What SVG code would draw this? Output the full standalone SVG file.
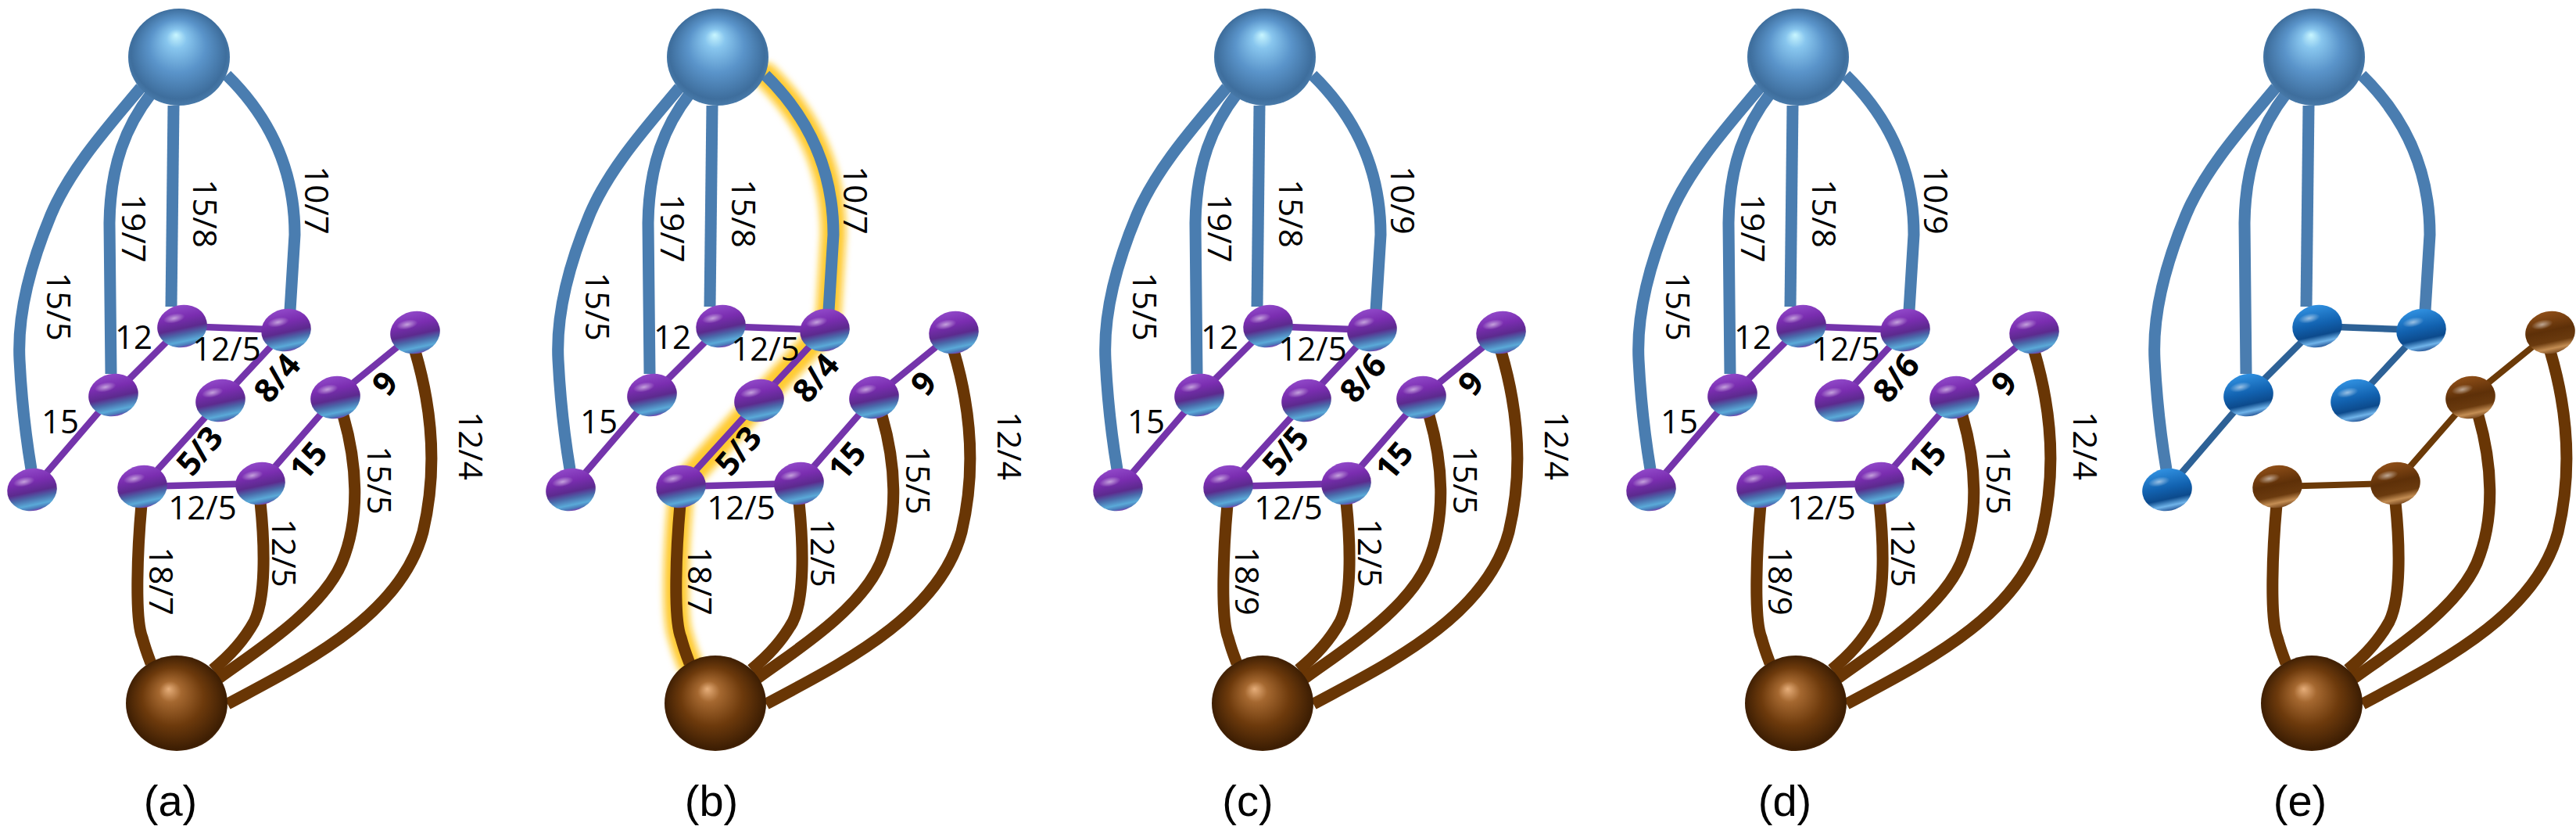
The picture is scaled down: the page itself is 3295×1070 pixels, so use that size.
<svg xmlns="http://www.w3.org/2000/svg" xmlns:xlink="http://www.w3.org/1999/xlink" width="3295" height="1070" viewBox="0 0 3295 1070">
<style>
.eb{fill:none;stroke:#4a7db0;stroke-width:15;stroke-linecap:butt}
.ep{fill:none;stroke:#7434ab;stroke-width:8.5}
.er{fill:none;stroke:#693605;stroke-width:15;stroke-linecap:butt}
.et{fill:none;stroke:#2d6196;stroke-width:8.5}
.etr{fill:none;stroke:#6b3a08;stroke-width:8}
.gl{fill:none;stroke:#ffc20e;stroke-width:32;stroke-linecap:round;stroke-linejoin:round;opacity:0.85}
.l{font-family:"Open Sans","DejaVu Sans",sans-serif;font-size:42px;fill:#000;text-anchor:middle}
.v{dominant-baseline:central}
.b{font-weight:700}
.cap{font-family:"Liberation Sans",Arial,sans-serif;font-size:56px;fill:#000;text-anchor:middle}
</style>
<defs>
<radialGradient id="gSrc" cx="0.5" cy="0.5" r="0.55" fx="0.47" fy="0.27">
<stop offset="0" stop-color="#c8f6ff"/><stop offset="0.18" stop-color="#88c6ee"/><stop offset="0.5" stop-color="#5a94ca"/><stop offset="0.85" stop-color="#3e6e9d"/><stop offset="1" stop-color="#4f82b2"/>
</radialGradient>
<radialGradient id="gSink" cx="0.5" cy="0.5" r="0.55" fx="0.42" fy="0.35">
<stop offset="0" stop-color="#e6ae7a"/><stop offset="0.2" stop-color="#a56830"/><stop offset="0.55" stop-color="#6d3a0c"/><stop offset="0.9" stop-color="#3d1e03"/><stop offset="1" stop-color="#5a3310"/>
</radialGradient>
<linearGradient id="gP" x1="0" y1="0" x2="0" y2="1">
<stop offset="0" stop-color="#9048c8"/><stop offset="0.3" stop-color="#7a2db0"/><stop offset="0.55" stop-color="#5c2a8e"/><stop offset="0.7" stop-color="#4a6aaa"/><stop offset="0.86" stop-color="#5aaad8"/><stop offset="0.95" stop-color="#4a78b8"/><stop offset="1" stop-color="#7a40b0"/>
</linearGradient>
<linearGradient id="gB" x1="0" y1="0" x2="0" y2="1">
<stop offset="0" stop-color="#3090e0"/><stop offset="0.45" stop-color="#1262b0"/><stop offset="0.72" stop-color="#0c4a8c"/><stop offset="0.88" stop-color="#70b4ea"/><stop offset="1" stop-color="#2a5a9a"/>
</linearGradient>
<linearGradient id="gR" x1="0" y1="0" x2="0" y2="1">
<stop offset="0" stop-color="#8e4e18"/><stop offset="0.45" stop-color="#5e3008"/><stop offset="0.72" stop-color="#6a3a0e"/><stop offset="0.88" stop-color="#c48e54"/><stop offset="1" stop-color="#7a4a20"/>
</linearGradient>
<radialGradient id="gHi" cx="0.5" cy="0.5" r="0.5">
<stop offset="0" stop-color="#fff" stop-opacity="0.55"/><stop offset="1" stop-color="#fff" stop-opacity="0"/>
</radialGradient>
<filter id="blur" x="-20%" y="-20%" width="140%" height="140%"><feGaussianBlur stdDeviation="4"/></filter>
<g id="np" transform="rotate(-12)"><ellipse rx="32" ry="27" fill="url(#gP)"/><ellipse cx="-8" cy="-12" rx="14" ry="6" fill="url(#gHi)"/></g>
<g id="nb" transform="rotate(-12)"><ellipse rx="32" ry="27" fill="url(#gB)"/><ellipse cx="-8" cy="-12" rx="14" ry="6" fill="url(#gHi)"/></g>
<g id="nr" transform="rotate(-12)"><ellipse rx="32" ry="27" fill="url(#gR)"/><ellipse cx="-8" cy="-12" rx="14" ry="6" fill="url(#gHi)"/></g>
<ellipse id="src" rx="65" ry="62" fill="url(#gSrc)"/>
<ellipse id="sink" rx="65" ry="61" fill="url(#gSink)"/>
</defs>
<rect width="3295" height="1070" fill="#fff"/>

<!-- Panel a -->
<g id="panel-a">
<g id="a-connectors">
<path class="eb" d="M180,112 C140,160 90,215 65,275 C40,335 22,400 25,460 C28,520 35,570 40,600"/>
<path class="eb" d="M193,120 C162,160 141,210 140,285 L142,478"/>
<path class="eb" d="M222,135 L219,392"/>
<path class="eb" d="M290,96 C335,140 377,205 377,300 L371,397"/>
<path class="ep" d="M41,626 L145,505 L233,417 L366,422 L282,512 L182,622 L333,618 L429,508 L531,425"/>
<path class="er" d="M181,645 C176,700 172,790 182,815 C186,830 190,840 193,848"/>
<path class="er" d="M333,642 C339,700 340,765 325,795 C310,822 292,840 272,856"/>
<path class="er" d="M439,531 C456,590 462,660 437,720 C410,782 322,836 280,867"/>
<path class="er" d="M531,449 C552,520 560,600 541,680 C512,790 380,852 291,900"/>
</g>
<g id="a-nodes">
<g id="a-source" transform="translate(229,73)"><use href="#src"/></g>
<g id="a-sink" transform="translate(226,899)"><use href="#sink"/></g>
<g id="a-n1" transform="translate(233,417)"><use href="#np"/></g>
<g id="a-n2" transform="translate(366,422)"><use href="#np"/></g>
<g id="a-n3" transform="translate(145,505)"><use href="#np"/></g>
<g id="a-n4" transform="translate(41,626)"><use href="#np"/></g>
<g id="a-n5" transform="translate(282,512)"><use href="#np"/></g>
<g id="a-n6" transform="translate(429,508)"><use href="#np"/></g>
<g id="a-n7" transform="translate(531,425)"><use href="#np"/></g>
<g id="a-n8" transform="translate(182,622)"><use href="#np"/></g>
<g id="a-n9" transform="translate(333,618)"><use href="#np"/></g>
</g>
<g id="a-labels">
<text class="l v" transform="translate(76,392) rotate(90)">15/5</text>
<text class="l v" transform="translate(172,292) rotate(90)">19/7</text>
<text class="l v" transform="translate(263,273) rotate(90)">15/8</text>
<text class="l v" transform="translate(406,256) rotate(90)">10/7</text>
<text class="l v" transform="translate(603,570) rotate(90)">12/4</text>
<text class="l v" transform="translate(486,614) rotate(90)">15/5</text>
<text class="l v" transform="translate(364,707) rotate(90)">12/5</text>
<text class="l v" transform="translate(207,743) rotate(90)">18/7</text>
<text class="l" x="171" y="446">12</text>
<text class="l" x="77" y="554">15</text>
<text class="l" x="290" y="461">12/5</text>
<text class="l" x="259" y="664">12/5</text>
<text class="l v b" transform="translate(353,482) rotate(-50)">8/4</text>
<text class="l v b" transform="translate(491,489) rotate(-50)">9</text>
<text class="l v b" transform="translate(254,575) rotate(-50)">5/3</text>
<text class="l v b" transform="translate(393,588) rotate(-50)">15</text>
</g>
</g>

<!-- Panel b -->
<g id="panel-b" transform="translate(689,0)">
<g id="b-highlight" filter="url(#blur)">
<path class="gl" d="M290,96 C335,140 377,205 377,300 L371,397 L366,422 L282,512 L182,622 L181,645 C176,700 172,790 182,815 C186,830 190,840 193,848"/>
</g>
<g id="b-connectors">
<path class="eb" d="M180,112 C140,160 90,215 65,275 C40,335 22,400 25,460 C28,520 35,570 40,600"/>
<path class="eb" d="M193,120 C162,160 141,210 140,285 L142,478"/>
<path class="eb" d="M222,135 L219,392"/>
<path class="eb" d="M290,96 C335,140 377,205 377,300 L371,397"/>
<path class="ep" d="M41,626 L145,505 L233,417 L366,422 L282,512 L182,622 L333,618 L429,508 L531,425"/>
<path class="er" d="M181,645 C176,700 172,790 182,815 C186,830 190,840 193,848"/>
<path class="er" d="M333,642 C339,700 340,765 325,795 C310,822 292,840 272,856"/>
<path class="er" d="M439,531 C456,590 462,660 437,720 C410,782 322,836 280,867"/>
<path class="er" d="M531,449 C552,520 560,600 541,680 C512,790 380,852 291,900"/>
</g>
<g id="b-nodes">
<g id="b-source" transform="translate(229,73)"><use href="#src"/></g>
<g id="b-sink" transform="translate(226,899)"><use href="#sink"/></g>
<g id="b-n1" transform="translate(233,417)"><use href="#np"/></g>
<g id="b-n2" transform="translate(366,422)"><use href="#np"/></g>
<g id="b-n3" transform="translate(145,505)"><use href="#np"/></g>
<g id="b-n4" transform="translate(41,626)"><use href="#np"/></g>
<g id="b-n5" transform="translate(282,512)"><use href="#np"/></g>
<g id="b-n6" transform="translate(429,508)"><use href="#np"/></g>
<g id="b-n7" transform="translate(531,425)"><use href="#np"/></g>
<g id="b-n8" transform="translate(182,622)"><use href="#np"/></g>
<g id="b-n9" transform="translate(333,618)"><use href="#np"/></g>
</g>
<g id="b-labels">
<text class="l v" transform="translate(76,392) rotate(90)">15/5</text>
<text class="l v" transform="translate(172,292) rotate(90)">19/7</text>
<text class="l v" transform="translate(263,273) rotate(90)">15/8</text>
<text class="l v" transform="translate(406,256) rotate(90)">10/7</text>
<text class="l v" transform="translate(603,570) rotate(90)">12/4</text>
<text class="l v" transform="translate(486,614) rotate(90)">15/5</text>
<text class="l v" transform="translate(364,707) rotate(90)">12/5</text>
<text class="l v" transform="translate(207,743) rotate(90)">18/7</text>
<text class="l" x="171" y="446">12</text>
<text class="l" x="77" y="554">15</text>
<text class="l" x="290" y="461">12/5</text>
<text class="l" x="259" y="664">12/5</text>
<text class="l v b" transform="translate(353,482) rotate(-50)">8/4</text>
<text class="l v b" transform="translate(491,489) rotate(-50)">9</text>
<text class="l v b" transform="translate(254,575) rotate(-50)">5/3</text>
<text class="l v b" transform="translate(393,588) rotate(-50)">15</text>
</g>
</g>

<!-- Panel c -->
<g id="panel-c" transform="translate(1389,0)">
<g id="c-connectors">
<path class="eb" d="M180,112 C140,160 90,215 65,275 C40,335 22,400 25,460 C28,520 35,570 40,600"/>
<path class="eb" d="M193,120 C162,160 141,210 140,285 L142,478"/>
<path class="eb" d="M222,135 L219,392"/>
<path class="eb" d="M290,96 C335,140 377,205 377,300 L371,397"/>
<path class="ep" d="M41,626 L145,505 L233,417 L366,422 L282,512 L182,622 L333,618 L429,508 L531,425"/>
<path class="er" d="M181,645 C176,700 172,790 182,815 C186,830 190,840 193,848"/>
<path class="er" d="M333,642 C339,700 340,765 325,795 C310,822 292,840 272,856"/>
<path class="er" d="M439,531 C456,590 462,660 437,720 C410,782 322,836 280,867"/>
<path class="er" d="M531,449 C552,520 560,600 541,680 C512,790 380,852 291,900"/>
</g>
<g id="c-nodes">
<g id="c-source" transform="translate(229,73)"><use href="#src"/></g>
<g id="c-sink" transform="translate(226,899)"><use href="#sink"/></g>
<g id="c-n1" transform="translate(233,417)"><use href="#np"/></g>
<g id="c-n2" transform="translate(366,422)"><use href="#np"/></g>
<g id="c-n3" transform="translate(145,505)"><use href="#np"/></g>
<g id="c-n4" transform="translate(41,626)"><use href="#np"/></g>
<g id="c-n5" transform="translate(282,512)"><use href="#np"/></g>
<g id="c-n6" transform="translate(429,508)"><use href="#np"/></g>
<g id="c-n7" transform="translate(531,425)"><use href="#np"/></g>
<g id="c-n8" transform="translate(182,622)"><use href="#np"/></g>
<g id="c-n9" transform="translate(333,618)"><use href="#np"/></g>
</g>
<g id="c-labels">
<text class="l v" transform="translate(76,392) rotate(90)">15/5</text>
<text class="l v" transform="translate(172,292) rotate(90)">19/7</text>
<text class="l v" transform="translate(263,273) rotate(90)">15/8</text>
<text class="l v" transform="translate(406,256) rotate(90)">10/9</text>
<text class="l v" transform="translate(603,570) rotate(90)">12/4</text>
<text class="l v" transform="translate(486,614) rotate(90)">15/5</text>
<text class="l v" transform="translate(364,707) rotate(90)">12/5</text>
<text class="l v" transform="translate(207,743) rotate(90)">18/9</text>
<text class="l" x="171" y="446">12</text>
<text class="l" x="77" y="554">15</text>
<text class="l" x="290" y="461">12/5</text>
<text class="l" x="259" y="664">12/5</text>
<text class="l v b" transform="translate(353,482) rotate(-50)">8/6</text>
<text class="l v b" transform="translate(491,489) rotate(-50)">9</text>
<text class="l v b" transform="translate(254,575) rotate(-50)">5/5</text>
<text class="l v b" transform="translate(393,588) rotate(-50)">15</text>
</g>
</g>

<!-- Panel d -->
<g id="panel-d" transform="translate(2071,0)">
<g id="d-connectors">
<path class="eb" d="M180,112 C140,160 90,215 65,275 C40,335 22,400 25,460 C28,520 35,570 40,600"/>
<path class="eb" d="M193,120 C162,160 141,210 140,285 L142,478"/>
<path class="eb" d="M222,135 L219,392"/>
<path class="eb" d="M290,96 C335,140 377,205 377,300 L371,397"/>
<path class="ep" d="M41,626 L145,505 L233,417 L366,422 L282,512"/>
<path class="ep" d="M182,622 L333,618 L429,508 L531,425"/>
<path class="er" d="M181,645 C176,700 172,790 182,815 C186,830 190,840 193,848"/>
<path class="er" d="M333,642 C339,700 340,765 325,795 C310,822 292,840 272,856"/>
<path class="er" d="M439,531 C456,590 462,660 437,720 C410,782 322,836 280,867"/>
<path class="er" d="M531,449 C552,520 560,600 541,680 C512,790 380,852 291,900"/>
</g>
<g id="d-nodes">
<g id="d-source" transform="translate(229,73)"><use href="#src"/></g>
<g id="d-sink" transform="translate(226,899)"><use href="#sink"/></g>
<g id="d-n1" transform="translate(233,417)"><use href="#np"/></g>
<g id="d-n2" transform="translate(366,422)"><use href="#np"/></g>
<g id="d-n3" transform="translate(145,505)"><use href="#np"/></g>
<g id="d-n4" transform="translate(41,626)"><use href="#np"/></g>
<g id="d-n5" transform="translate(282,512)"><use href="#np"/></g>
<g id="d-n6" transform="translate(429,508)"><use href="#np"/></g>
<g id="d-n7" transform="translate(531,425)"><use href="#np"/></g>
<g id="d-n8" transform="translate(182,622)"><use href="#np"/></g>
<g id="d-n9" transform="translate(333,618)"><use href="#np"/></g>
</g>
<g id="d-labels">
<text class="l v" transform="translate(76,392) rotate(90)">15/5</text>
<text class="l v" transform="translate(172,292) rotate(90)">19/7</text>
<text class="l v" transform="translate(263,273) rotate(90)">15/8</text>
<text class="l v" transform="translate(406,256) rotate(90)">10/9</text>
<text class="l v" transform="translate(597,570) rotate(90)">12/4</text>
<text class="l v" transform="translate(486,614) rotate(90)">15/5</text>
<text class="l v" transform="translate(364,707) rotate(90)">12/5</text>
<text class="l v" transform="translate(207,743) rotate(90)">18/9</text>
<text class="l" x="171" y="446">12</text>
<text class="l" x="77" y="554">15</text>
<text class="l" x="290" y="461">12/5</text>
<text class="l" x="259" y="664">12/5</text>
<text class="l v b" transform="translate(353,482) rotate(-50)">8/6</text>
<text class="l v b" transform="translate(491,489) rotate(-50)">9</text>
<text class="l v b" transform="translate(393,588) rotate(-50)">15</text>
</g>
</g>

<!-- Panel e -->
<g id="panel-e" transform="translate(2731,0)">
<g id="e-connectors">
<path class="eb" d="M180,112 C140,160 90,215 65,275 C40,335 22,400 25,460 C28,520 35,570 40,600"/>
<path class="eb" d="M193,120 C162,160 141,210 140,285 L142,478"/>
<path class="eb" d="M222,135 L219,392"/>
<path class="eb" d="M290,96 C335,140 377,205 377,300 L371,397"/>
<path class="et" d="M41,626 L145,505 L233,417 L366,422 L282,512"/>
<path class="etr" d="M182,622 L333,618 L429,508 L531,425"/>
<path class="er" d="M181,645 C176,700 172,790 182,815 C186,830 190,840 193,848"/>
<path class="er" d="M333,642 C339,700 340,765 325,795 C310,822 292,840 272,856"/>
<path class="er" d="M439,531 C456,590 462,660 437,720 C410,782 322,836 280,867"/>
<path class="er" d="M531,449 C552,520 560,600 541,680 C512,790 380,852 291,900"/>
</g>
<g id="e-nodes">
<g id="e-source" transform="translate(229,73)"><use href="#src"/></g>
<g id="e-sink" transform="translate(226,899)"><use href="#sink"/></g>
<g id="e-n1" transform="translate(233,417)"><use href="#nb"/></g>
<g id="e-n2" transform="translate(366,422)"><use href="#nb"/></g>
<g id="e-n3" transform="translate(145,505)"><use href="#nb"/></g>
<g id="e-n4" transform="translate(41,626)"><use href="#nb"/></g>
<g id="e-n5" transform="translate(282,512)"><use href="#nb"/></g>
<g id="e-n6" transform="translate(429,508)"><use href="#nr"/></g>
<g id="e-n7" transform="translate(531,425)"><use href="#nr"/></g>
<g id="e-n8" transform="translate(182,622)"><use href="#nr"/></g>
<g id="e-n9" transform="translate(333,618)"><use href="#nr"/></g>
</g>
</g>

<g id="captions">
<text class="cap" x="218" y="1043">(a)</text>
<text class="cap" x="910" y="1043">(b)</text>
<text class="cap" x="1596" y="1043">(c)</text>
<text class="cap" x="2283" y="1043">(d)</text>
<text class="cap" x="2942" y="1043">(e)</text>
</g>
</svg>
